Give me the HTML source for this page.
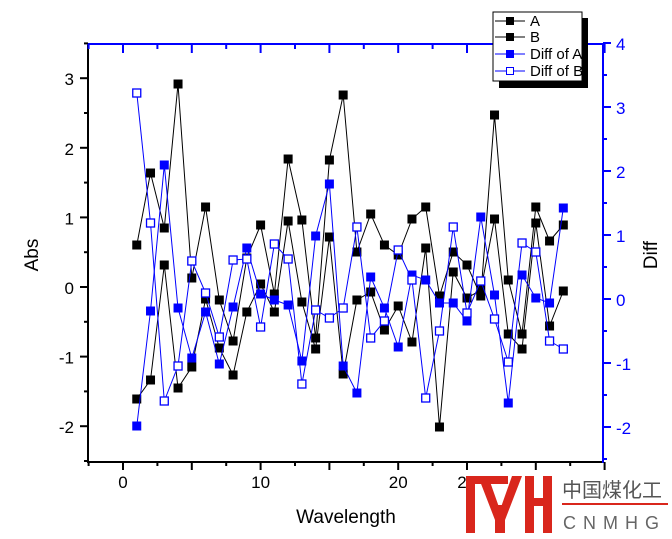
<!DOCTYPE html>
<html><head><meta charset="utf-8"><style>
html,body{margin:0;padding:0;background:#fff;}
svg{display:block;font-family:"Liberation Sans",Arial,sans-serif;}
</style></head><body>
<svg id="s" width="672" height="539" viewBox="0 0 672 539" xmlns="http://www.w3.org/2000/svg">
<rect width="672" height="539" fill="#fff"/>
<g id="plot"></g>
<line x1="88" y1="44" x2="88" y2="462" stroke="#000" stroke-width="2"/>
<line x1="87" y1="462" x2="604" y2="462" stroke="#000" stroke-width="2"/>
<line x1="87" y1="44" x2="604" y2="44" stroke="#00f" stroke-width="2"/>
<line x1="603" y1="43" x2="603" y2="463" stroke="#00f" stroke-width="2"/>
<g id="ticks"></g>
<text x="38" y="255" font-size="19" text-anchor="middle" transform="rotate(-90 38 255)">Abs</text>
<text x="657" y="255" font-size="19" text-anchor="middle" transform="rotate(-90 657 255)">Diff</text>
<text x="346" y="523" font-size="19" text-anchor="middle">Wavelength</text>
<rect x="499" y="18" width="89" height="70" fill="#000"/>
<rect x="493" y="12" width="89" height="69" fill="#fff" stroke="#000" stroke-width="1"/>
<g font-size="15">
<line x1="495" y1="21" x2="525" y2="21" stroke="#000"/><rect x="506" y="17" width="8" height="8" fill="#000"/><text x="530" y="26">A</text>
<line x1="495" y1="37" x2="525" y2="37" stroke="#000"/><rect x="506" y="33" width="8" height="8" fill="#000"/><text x="530" y="42">B</text>
<line x1="495" y1="54" x2="525" y2="54" stroke="#00f"/><rect x="506" y="50" width="8" height="8" fill="#00f"/><text x="530" y="59">Diff of A</text>
<line x1="495" y1="71" x2="525" y2="71" stroke="#00f"/><rect x="506.5" y="67.5" width="7" height="7" fill="#fff" stroke="#00f"/><text x="530" y="76">Diff of B</text>
</g>
<g fill="#d9261c">
<rect x="466" y="476" width="9" height="57"/>
<rect x="466" y="476" width="42" height="8"/>
<polygon points="478,476 488,476 500,510 512,476 522,476 505,520 495,520"/>
<rect x="495" y="505" width="10" height="28"/>
<rect x="525" y="476" width="9" height="57"/>
<rect x="543" y="476" width="9" height="57"/>
<rect x="525" y="498" width="27" height="8"/>
<rect x="562" y="503" width="106" height="2"/>
</g>
<text x="562" y="497" font-size="20" fill="#555" font-family="'Noto Sans CJK SC',sans-serif">中国煤化工</text>
<text x="563" y="529" font-size="18" fill="#666" letter-spacing="7">CNMHG</text>
</svg>
<script>
var NS="http://www.w3.org/2000/svg";
function el(p,n,a){var e=document.createElementNS(NS,n);for(var k in a)e.setAttribute(k,a[k]);p.appendChild(e);return e;}
var X=function(i){return 123+13.76*i;};
var A=[245,173,228,84,278,207,300,341,258,225,294,159,220,338,160,95,252,214,245,255,219,207,296,252,265,296,115,280,334,207,241,225];
var B=[399,380,265,388,367,299,348,375,312,284,312,221,302,349,237,374,300,292,330,306,342,248,427,272,298,290,219,334,349,223,326,291];
var DA=[426,311,165,308,358,312,364,307,248,294,300,305,361,236,184,366,393,277,308,347,275,280,303,303,321,217,295,403,275,298,303,208];
var DB=[93,223,401,366,261,293,337,260,259,327,244,259,384,310,318,308,227,338,321,250,280,398,331,227,313,281,319,362,243,252,341,349];
var g=document.getElementById("plot");
function series(d,col,fill){
 var pts=d.map(function(y,i){return X(i+1).toFixed(1)+","+y;}).join(" ");
 el(g,"polyline",{points:pts,fill:"none",stroke:col,"stroke-width":1});
 d.forEach(function(y,i){var x=X(i+1);
  if(fill) el(g,"rect",{x:x-4.5,y:y-4.5,width:9,height:9,fill:col});
  else el(g,"rect",{x:x-4,y:y-4,width:8,height:8,fill:"#fff",stroke:col,"stroke-width":1.3});});
}
series(A,"#000",1);series(B,"#000",1);series(DA,"#00f",1);series(DB,"#00f",0);
var t=document.getElementById("ticks");
for(var v=-2.5;v<=3.5;v+=0.5){var y=287-v*69.6;var maj=Math.abs(v-Math.round(v))<0.01;
 el(t,"line",{x1:maj?80:84,y1:y,x2:88,y2:y,stroke:"#000","stroke-width":2});
 if(maj&&v>=-2&&v<=3){var tx=el(t,"text",{x:74,y:y+7,"font-size":17,"text-anchor":"end"});tx.textContent=v;}}
for(var v=-2.5;v<=4;v+=0.5){var y=299-v*64;var maj=Math.abs(v-Math.round(v))<0.01;
 el(t,"line",{x1:603,y1:y,x2:maj?611:607,y2:y,stroke:"#00f","stroke-width":2});
 if(maj&&v>=-2){var tx=el(t,"text",{x:616,y:y+7,"font-size":17,fill:"#00f"});tx.textContent=v;}}
for(var v=-2.5;v<=35;v+=2.5){var x=123+v*13.76;var maj=Math.abs(v/5-Math.round(v/5))<0.01;
 el(t,"line",{x1:x,y1:462,x2:x,y2:maj?470:466,stroke:"#000","stroke-width":2});
 el(t,"line",{x1:x,y1:44,x2:x,y2:maj?53:49,stroke:"#00f","stroke-width":2});}
[[0,"0"],[10,"10"],[20,"20"],[25,"2"]].forEach(function(p){var x=123+p[0]*13.76;
 var tx=el(t,"text",{x:p[1]=="2"?x-5:x,y:488,"font-size":17,"text-anchor":"middle"});tx.textContent=p[1];});
</script>
</body></html>
